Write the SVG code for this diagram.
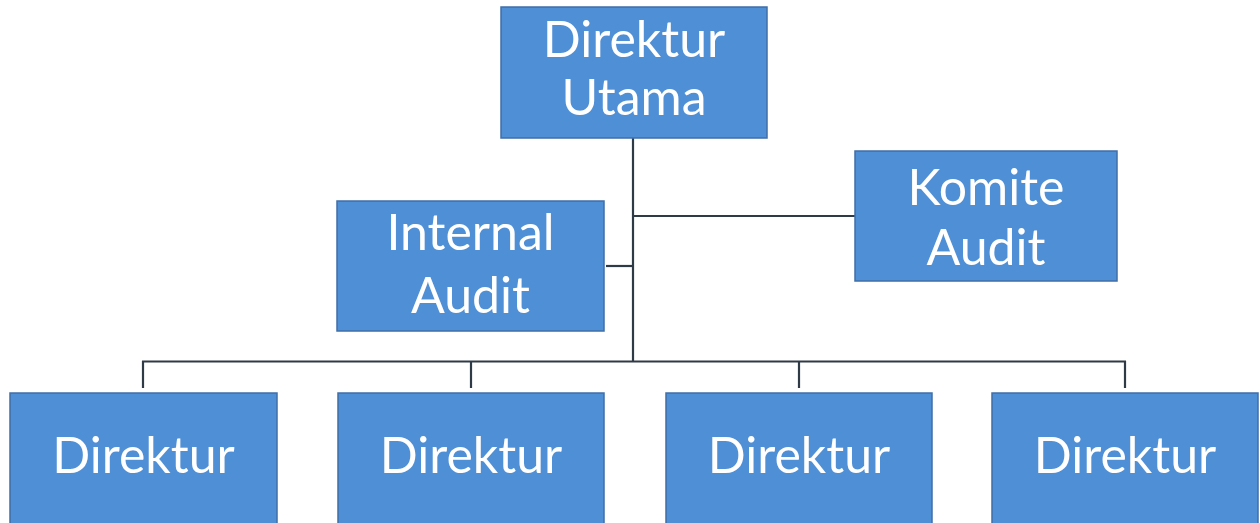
<svg xmlns="http://www.w3.org/2000/svg" width="1260" height="523" viewBox="0 0 1260 523">
<style>
.box{fill:#4f8fd6;stroke:#3f6fa8;stroke-width:1.5}
.lbl{font-family:Lato,"Open Sans","Liberation Sans",sans-serif;font-size:50px;fill:#ffffff;text-anchor:middle}
.ln{stroke:#2e3b47;stroke-width:2.2;fill:none}
</style>
<rect width="1260" height="523" fill="#ffffff"/>
<g id="connectors">
<line class="ln" x1="633" y1="138" x2="633" y2="362"/>
<line class="ln" x1="633" y1="216" x2="855" y2="216"/>
<line class="ln" x1="606" y1="266" x2="633" y2="266"/>
<line class="ln" x1="142" y1="361.5" x2="1126" y2="361.5"/>
<line class="ln" x1="143" y1="361" x2="143" y2="388"/>
<line class="ln" x1="471" y1="361" x2="471" y2="388"/>
<line class="ln" x1="799" y1="361" x2="799" y2="388"/>
<line class="ln" x1="1125" y1="361" x2="1125" y2="388"/>
</g>
<g id="direktur-utama">
<rect class="box" x="501" y="7" width="266" height="131"/>
<text class="lbl" x="634" y="57">Direktur</text>
<text class="lbl" x="634" y="115">Utama</text>
</g>
<g id="internal-audit">
<rect class="box" x="337" y="201" width="267" height="130"/>
<text class="lbl" x="470.5" y="250">Internal</text>
<text class="lbl" x="470.5" y="313">Audit</text>
</g>
<g id="komite-audit">
<rect class="box" x="855" y="151" width="262" height="130"/>
<text class="lbl" x="986" y="205">Komite</text>
<text class="lbl" x="986" y="265">Audit</text>
</g>
<g id="direktur-1">
<rect class="box" x="10" y="393" width="267" height="140"/>
<text class="lbl" x="143.5" y="473">Direktur</text>
</g>
<g id="direktur-2">
<rect class="box" x="338" y="393" width="266" height="140"/>
<text class="lbl" x="471" y="473">Direktur</text>
</g>
<g id="direktur-3">
<rect class="box" x="666" y="393" width="266" height="140"/>
<text class="lbl" x="799" y="473">Direktur</text>
</g>
<g id="direktur-4">
<rect class="box" x="992" y="393" width="266" height="140"/>
<text class="lbl" x="1125" y="473">Direktur</text>
</g>
</svg>
